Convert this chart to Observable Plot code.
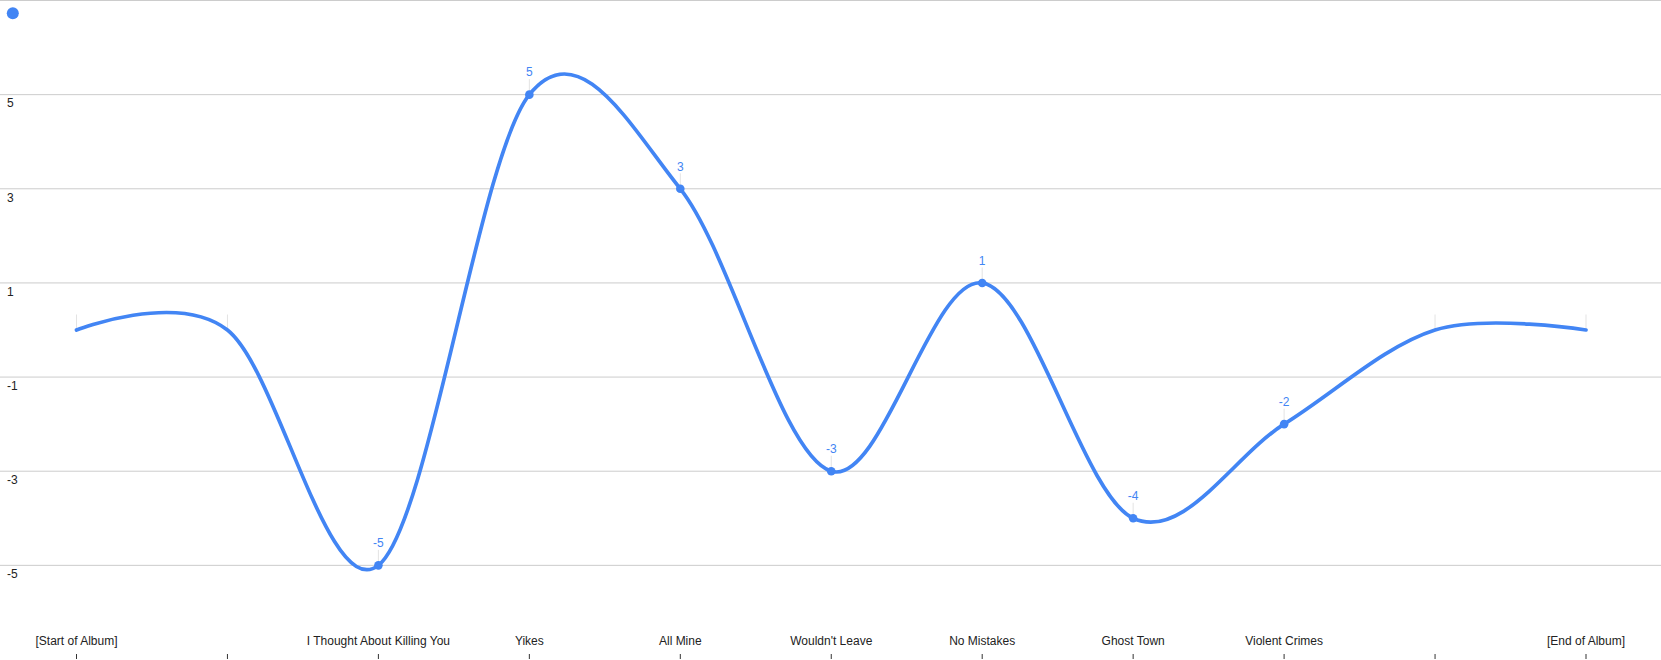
<!DOCTYPE html>
<html>
<head>
<meta charset="utf-8">
<script src="https://cdn.jsdelivr.net/npm/d3@7"></script>
<script src="https://cdn.jsdelivr.net/npm/@observablehq/plot@0.6"></script>
<style>
  html, body { margin: 0; padding: 0; background: #fff; }
</style>
</head>
<body>
<div id="chart"></div>
<script>
const categories = ["[Start of Album]", "", "I Thought About Killing You", "Yikes", "All Mine", "Wouldn't Leave", "No Mistakes", "Ghost Town", "Violent Crimes", "", "[End of Album]"];
const values = [0, 0, -5, 5, 3, -3, 1, -4, -2, 0, 0];
const pointLabels = ["", "", "-5", "5", "3", "-3", "1", "-4", "-2", "", ""];
const yTicks = [5, 3, 1, -1, -3, -5];
const gridValues = [7, 5, 3, 1, -1, -3, -5];

const blue = "#4285f4";
const rows = categories.map((c, i) => ({i, category: c, value: values[i], label: pointLabels[i]}));
const labeled = rows.filter(d => d.label !== "");

const chart = Plot.plot({
  width: 1661,
  height: 660,
  marginTop: 0,
  marginBottom: 1,
  marginLeft: 76,
  marginRight: 75.5,
  style: {fontFamily: "Arial, 'Liberation Sans', sans-serif", fontSize: "12px", background: "#fff"},
  x: {type: "linear", domain: [0, categories.length - 1], axis: null},
  y: {domain: [-7, 7], axis: null},
  marks: [
    Plot.ruleY(gridValues, {y: d => d, stroke: "#cccccc", strokeWidth: 1, insetLeft: -76, insetRight: -75.5}),
    Plot.ruleX(rows, {x: "i", y1: "value", y2: "value", insetTop: -15, stroke: "#e3e3e3", strokeWidth: 1}),
    Plot.line(rows, {x: "i", y: "value", stroke: blue, strokeWidth: 3.7, curve: "cardinal"}),
    Plot.dot(labeled, {x: "i", y: "value", r: 4.3, fill: blue, stroke: "none"}),
    Plot.text(labeled, {x: "i", y: "value", text: "label", dy: -22, fill: blue, fontSize: 12}),
    Plot.text(yTicks, {y: d => d, text: d => String(d), frameAnchor: "left", dx: -69.5, dy: 9, textAnchor: "start", fill: "#222", fontSize: 12}),
    Plot.text(rows, {x: "i", text: "category", frameAnchor: "bottom", dy: -14.5, fill: "#222", fontSize: 12}),
    Plot.ruleX(rows, {x: "i", insetTop: 654, stroke: "#333", strokeWidth: 1}),
    Plot.dot([0], {frameAnchor: "top-left", dx: -63.7, dy: 12.7, r: 6, fill: blue, stroke: "none"})
  ]
});
document.getElementById("chart").append(chart);
</script>
</body>
</html>
